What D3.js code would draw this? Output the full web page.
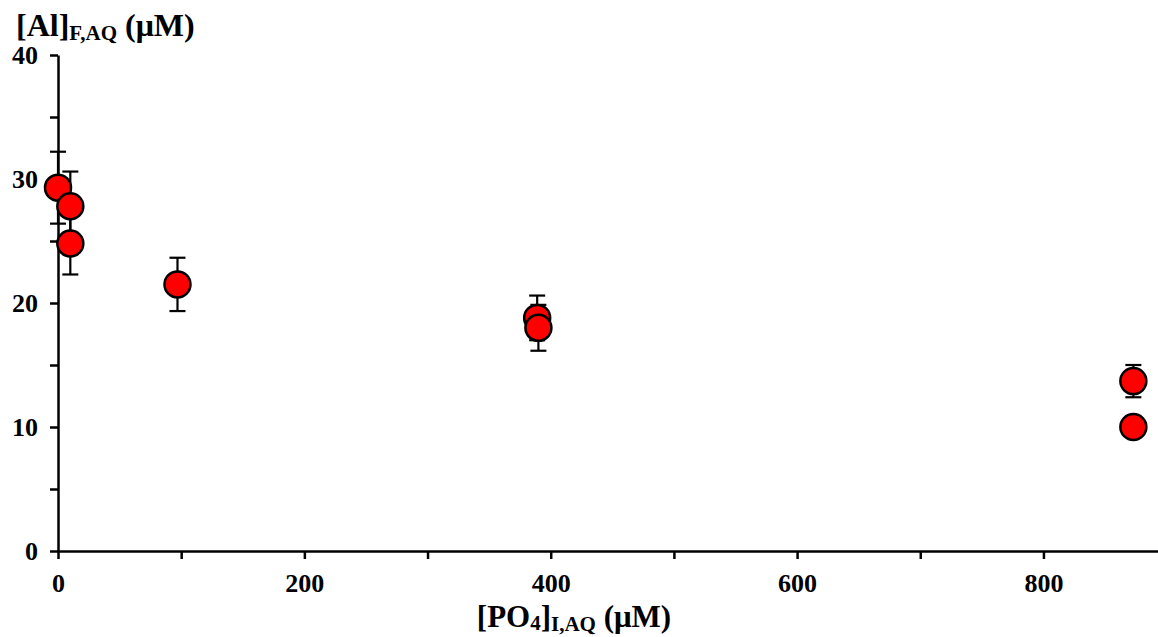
<!DOCTYPE html>
<html>
<head>
<meta charset="utf-8">
<script src="https://cdn.jsdelivr.net/npm/d3@7"></script>
<style>
  html, body { margin: 0; padding: 0; background: #fff; }
  svg { display: block; }
  text { font-family: "Liberation Serif", "Times New Roman", serif; font-weight: bold; fill: #000; }
</style>
</head>
<body>
<svg id="chart" width="1158" height="637"></svg>
<script>
// Data
const phosphate = [0, 10, 10, 97, 389, 390, 873, 873];          // [PO4]I,AQ (µM)
const aluminium = [29.3, 27.8, 24.8, 21.5, 18.8, 18.0, 13.7, 10.0]; // [Al]F,AQ (µM)
const errors    = [2.9, 2.8, 2.5, 2.15, 1.8, 1.85, 1.3, 0.5];
const xTicks = [0, 100, 200, 300, 400, 500, 600, 700, 800];
const yTicks = [0, 5, 10, 15, 20, 25, 30, 35, 40];

const svg = d3.select("#chart");

const x = d3.scaleLinear().domain([0, 893]).range([58, 1158]);
const y = d3.scaleLinear().domain([0, 40]).range([551, 55]);

// Axes
const xAxis = d3.axisBottom(x)
  .tickValues(xTicks)
  .tickFormat(d => d % 200 === 0 ? d : "")
  .tickSize(8).tickSizeOuter(0).tickPadding(20);
const yAxis = d3.axisLeft(y)
  .tickValues(yTicks)
  .tickFormat(d => d % 10 === 0 ? d : "")
  .tickSize(8).tickSizeOuter(0).tickPadding(12);

const gx = svg.append("g").attr("transform", `translate(0,${y(0)})`).call(xAxis);
const gy = svg.append("g").attr("transform", `translate(${x(0)},0)`).call(yAxis);

[gx, gy].forEach(g => {
  g.select(".domain").attr("stroke", "#000").attr("stroke-width", 2.5);
  g.selectAll(".tick line").attr("stroke", "#000").attr("stroke-width", 2.5);
  g.selectAll(".tick text").style("font-size", "26px").style("font-family", "'Liberation Serif', serif").style("font-weight", "bold").attr("fill", "#000");
});
gx.selectAll(".tick text").attr("dy", "0.5em");
gy.selectAll(".tick text").attr("dy", "0.34em");

// Data
const data = phosphate.map((p, i) => ({ x: p, y: aluminium[i], e: errors[i] }));

// Error bars (behind markers)
const eb = svg.append("g").attr("stroke", "#000").attr("stroke-width", 2.2);
data.forEach(d => {
  const cx = x(d.x);
  eb.append("line").attr("x1", cx).attr("x2", cx).attr("y1", y(d.y + d.e)).attr("y2", y(d.y - d.e));
  eb.append("line").attr("x1", cx - 8).attr("x2", cx + 8).attr("y1", y(d.y + d.e)).attr("y2", y(d.y + d.e));
  eb.append("line").attr("x1", cx - 8).attr("x2", cx + 8).attr("y1", y(d.y - d.e)).attr("y2", y(d.y - d.e));
});

// Markers
svg.append("g").selectAll("circle").data(data).join("circle")
  .attr("cx", d => x(d.x)).attr("cy", d => y(d.y)).attr("r", 13)
  .attr("fill", "#ff0000").attr("stroke", "#000").attr("stroke-width", 2.5);

// Y axis title
const yt = svg.append("text").attr("x", 16).attr("y", 36).style("font-size", "32px");
yt.append("tspan").text("[Al]");
yt.append("tspan").attr("dy", 4).style("font-size", "21px").text("F,AQ");
yt.append("tspan").attr("dy", -4).text(" (μM)");

// X axis title
const xt = svg.append("text").attr("x", 574).attr("y", 627).attr("text-anchor", "middle").style("font-size", "31px");
xt.append("tspan").text("[PO");
xt.append("tspan").attr("dy", 3).style("font-size", "21px").text("4");
xt.append("tspan").attr("dy", -3).text("]");
xt.append("tspan").attr("dy", 4).style("font-size", "21px").text("I,AQ");
xt.append("tspan").attr("dy", -4).text(" (μM)");
</script>
</body>
</html>
